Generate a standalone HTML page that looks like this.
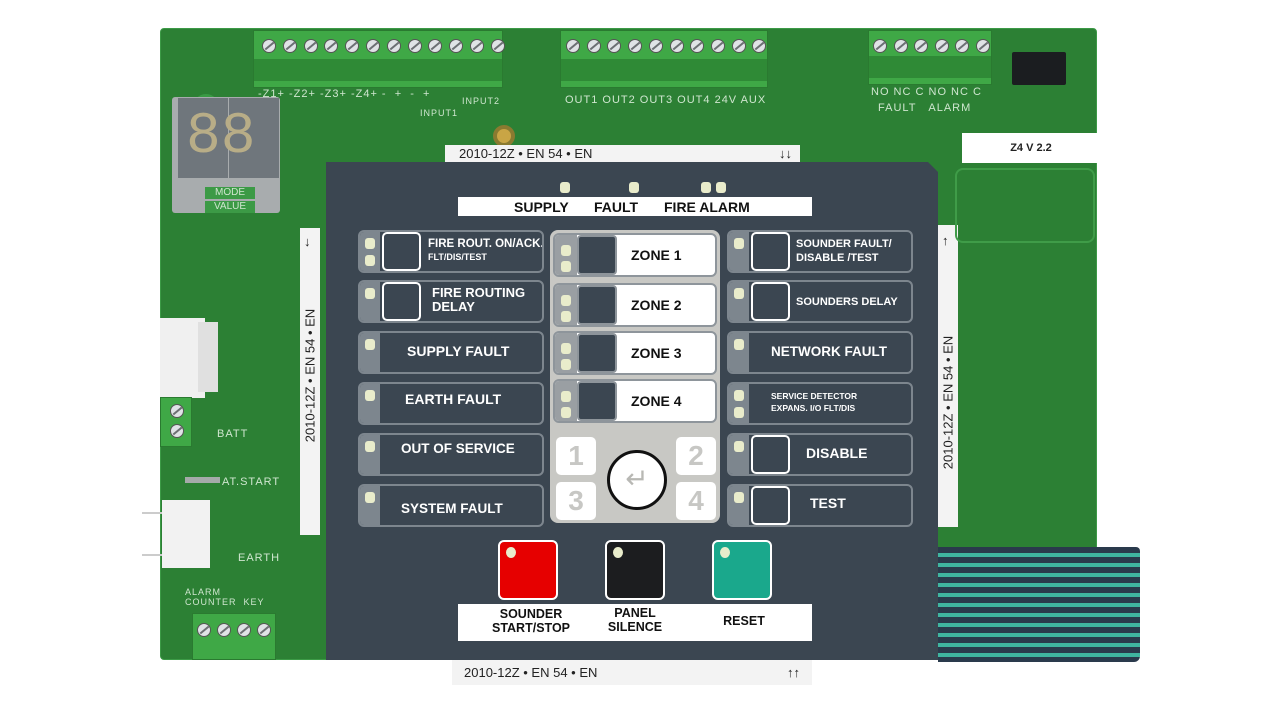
<!DOCTYPE html>
<html><head><meta charset="utf-8"><style>
*{margin:0;padding:0;box-sizing:border-box}
body{width:1280px;height:720px;background:#fff;position:relative;overflow:hidden;font-family:"Liberation Sans",Arial,sans-serif}
.a{position:absolute}
.board{left:160px;top:28px;width:937px;height:632px;background:#2c8034;border-radius:4px;border:1px solid #3c9a46}
.term{background:#3fa846;border:1px solid #2a7a30}
.termlow{position:absolute;left:0;right:0;bottom:6px;height:22px;background:#2f8a36}
.screw{position:absolute;width:14px;height:14px;border-radius:50%;background:#dfe3e6;border:1px solid #555;top:10px}
.screw:after{content:"";position:absolute;left:1px;top:5px;width:11px;height:2px;background:#6b6f73;transform:rotate(-40deg)}
.silk{color:#cfe6cf;font-size:11px;letter-spacing:1px}
.panel{left:326px;top:162px;width:612px;height:498px;background:#3b4651}
.btn{position:absolute;width:186px;height:43px;border:2px solid #7d868e;border-radius:6px;background:#3b4651;overflow:hidden;color:#fff;font-weight:bold}
.strip{position:absolute;left:0;top:0;bottom:0;width:20px;background:#7d868e}
.led{position:absolute;width:10px;height:11px;border-radius:3px;background:#e9eccb}
.sq{position:absolute;left:22px;top:0;width:39px;height:39px;border:2px solid #fff;border-radius:5px;background:#3b4651}
.t{position:absolute;white-space:nowrap;font-size:14px}
.zone{position:absolute;left:553px;width:164px;height:44px;border:2px solid #8e959b;border-radius:6px;background:#fff;overflow:hidden}
.zone .strip{width:22px;background:#9a9fa3}
.zone .sq{left:22px;top:0;width:40px;height:40px;border:2px solid #8e959b;border-radius:4px;background:#3b4651}
.zone .t{left:76px;top:12px;color:#111;font-size:14px;font-weight:bold}
.key{position:absolute;width:40px;height:38px;background:#fff;border-radius:5px;color:#c7c7c4;font-size:28px;font-weight:bold;text-align:center;line-height:38px}
.lab{background:#f3f3f3;color:#222;font-size:13px;white-space:nowrap}
</style></head><body>
<div class="a board"></div>
<div class="a term" style="left:253px;top:30px;width:250px;height:58px"><div class="termlow"></div></div>
<div class="a term" style="left:560px;top:30px;width:208px;height:58px"><div class="termlow"></div></div>
<div class="a term" style="left:868px;top:30px;width:124px;height:55px"><div class="termlow"></div></div>
<div class="a" style="left:1012px;top:52px;width:54px;height:33px;background:#1b1d20;border-radius:2px"></div>
<div class="a silk" style="left:258px;top:88px">-Z1+ -Z2+ -Z3+ -Z4+ - &nbsp;+ &nbsp;- &nbsp;+</div>
<div class="a silk" style="left:420px;top:108px;font-size:9px">INPUT1</div>
<div class="a silk" style="left:462px;top:96px;font-size:9px">INPUT2</div>
<div class="a silk" style="left:565px;top:94px">OUT1 OUT2 OUT3 OUT4 24V AUX</div>
<div class="a silk" style="left:871px;top:86px">NO NC C NO NC C</div>
<div class="a silk" style="left:878px;top:102px">FAULT &nbsp;&nbsp;ALARM</div>
<div class="a" style="left:193px;top:94px;width:26px;height:26px;border-radius:50%;background:#fff;border:5px solid #3a9a44"></div>
<div class="a" style="left:493px;top:125px;width:22px;height:22px;border-radius:50%;background:#c9a545;border:4px solid #8a7a30"></div>
<div class="a" style="left:172px;top:97px;width:108px;height:116px;background:#a8acae;border-radius:3px"></div>
<div class="a" style="left:178px;top:98px;width:50px;height:80px;background:#6f767c"></div>
<div class="a" style="left:229px;top:98px;width:50px;height:80px;background:#6f767c"></div>
<div class="a" style="left:186px;top:108px;font-size:58px;color:#b8ad87;line-height:60px;font-family:'Liberation Mono',monospace">88</div>
<div class="a" style="left:205px;top:187px;width:50px;height:12px;background:#3c9a46;color:#cfe6cf;font-size:10px;text-align:center;line-height:12px">MODE</div>
<div class="a" style="left:205px;top:201px;width:50px;height:12px;background:#3c9a46;color:#cfe6cf;font-size:10px;text-align:center;line-height:12px">VALUE</div>
<div class="a" style="left:160px;top:318px;width:45px;height:80px;background:#f0f0f0"></div>
<div class="a" style="left:198px;top:322px;width:20px;height:70px;background:#e0e0e0"></div>
<div class="a term" style="left:160px;top:397px;width:32px;height:50px"></div>
<div class="a silk" style="left:217px;top:428px">BATT</div>
<div class="a silk" style="left:222px;top:476px">AT.START</div>
<div class="a" style="left:185px;top:477px;width:35px;height:6px;background:#a5aaa9"></div>
<div class="a" style="left:162px;top:500px;width:48px;height:68px;background:#f2f2f2"></div>
<div class="a" style="left:142px;top:512px;width:20px;height:2px;background:#ccc"></div>
<div class="a" style="left:142px;top:554px;width:20px;height:2px;background:#ccc"></div>
<div class="a silk" style="left:238px;top:552px">EARTH</div>
<div class="a silk" style="left:185px;top:587px;font-size:9px">ALARM<br>COUNTER &nbsp;KEY</div>
<div class="a term" style="left:192px;top:613px;width:84px;height:47px"></div>
<div id="screws"></div>
<div class="a lab" style="left:445px;top:145px;width:355px;height:18px;padding-left:14px;line-height:18px">2010-12Z • EN 54 • EN<span style="position:absolute;right:8px">↓↓</span></div>
<div class="a lab" style="left:962px;top:133px;width:138px;height:30px;background:#fff;line-height:30px;text-align:center;font-size:11px;font-weight:bold">Z4 V 2.2</div>
<div class="a lab" style="left:300px;top:228px;width:20px;height:307px"><div class="a" style="left:-140px;top:140px;width:300px;transform:rotate(-90deg);text-align:center">2010-12Z • EN 54 • EN</div><div class="a" style="left:4px;top:6px">↓</div></div>
<div class="a lab" style="left:938px;top:225px;width:20px;height:302px"><div class="a" style="left:-140px;top:170px;width:300px;transform:rotate(-90deg);text-align:center">2010-12Z • EN 54 • EN</div><div class="a" style="left:4px;top:8px">↑</div></div>
<div class="a" style="left:955px;top:168px;width:140px;height:75px;border:2px solid #3f9c48;border-radius:8px"></div>
<div class="a" style="left:938px;top:547px;width:202px;height:115px;border-radius:0 4px 6px 0;background:repeating-linear-gradient(#2a3a4c 0 6px,#3fb5a0 6px 10px)"></div>
<div class="a panel"></div>
<div class="a" style="left:928px;top:162px;width:12px;height:12px;background:#2c8034;clip-path:polygon(0 0,100% 0,100% 100%)"></div>
<div class="a lab" style="left:452px;top:660px;width:360px;height:25px;line-height:25px;padding-left:12px;font-size:13px">2010-12Z • EN 54 • EN<span style="position:absolute;right:12px">↑↑</span></div>
<div class="a led" style="left:560px;top:182px"></div>
<div class="a led" style="left:629px;top:182px"></div>
<div class="a led" style="left:701px;top:182px"></div>
<div class="a led" style="left:716px;top:182px"></div>
<div class="a" style="left:458px;top:197px;width:354px;height:19px;background:#fff"></div>
<div class="a t" style="left:514px;top:199px;font-weight:bold;color:#111;font-size:14px">SUPPLY</div>
<div class="a t" style="left:594px;top:199px;font-weight:bold;color:#111;font-size:14px">FAULT</div>
<div class="a t" style="left:664px;top:199px;font-weight:bold;color:#111;font-size:14px">FIRE ALARM</div>
<div class="btn" style="left:358px;top:230px"><div class="strip"></div><div class="led" style="left:5px;top:6px"></div><div class="led" style="left:5px;top:23px"></div><div class="sq"></div><div class="t" style="left:68px;top:6px;font-size:11.5px">FIRE ROUT. ON/ACK.</div><div class="t" style="left:68px;top:20px;font-size:9px">FLT/DIS/TEST</div></div>
<div class="btn" style="left:358px;top:280px"><div class="strip"></div><div class="led" style="left:5px;top:6px"></div><div class="sq"></div><div class="t" style="left:72px;top:4px;font-size:13px;line-height:14px">FIRE ROUTING<br>DELAY</div></div>
<div class="btn" style="left:358px;top:331px"><div class="strip"></div><div class="led" style="left:5px;top:6px"></div><div class="t" style="left:47px;top:10px">SUPPLY FAULT</div></div>
<div class="btn" style="left:358px;top:382px"><div class="strip"></div><div class="led" style="left:5px;top:6px"></div><div class="t" style="left:45px;top:7px">EARTH FAULT</div></div>
<div class="btn" style="left:358px;top:433px"><div class="strip"></div><div class="led" style="left:5px;top:6px"></div><div class="t" style="left:41px;top:6px;font-size:13.5px">OUT OF SERVICE</div></div>
<div class="btn" style="left:358px;top:484px"><div class="strip"></div><div class="led" style="left:5px;top:6px"></div><div class="t" style="left:41px;top:15px;font-size:13.5px">SYSTEM FAULT</div></div>
<div class="btn" style="left:727px;top:230px"><div class="strip"></div><div class="led" style="left:5px;top:6px"></div><div class="sq"></div><div class="t" style="left:67px;top:5px;font-size:11px;line-height:14px">SOUNDER FAULT/<br>DISABLE /TEST</div></div>
<div class="btn" style="left:727px;top:280px"><div class="strip"></div><div class="led" style="left:5px;top:6px"></div><div class="sq"></div><div class="t" style="left:67px;top:14px;font-size:11px">SOUNDERS DELAY</div></div>
<div class="btn" style="left:727px;top:331px"><div class="strip"></div><div class="led" style="left:5px;top:6px"></div><div class="t" style="left:42px;top:11px;font-size:13.5px">NETWORK FAULT</div></div>
<div class="btn" style="left:727px;top:382px"><div class="strip"></div><div class="led" style="left:5px;top:6px"></div><div class="led" style="left:5px;top:23px"></div><div class="t" style="left:42px;top:6px;font-size:8.5px;line-height:12px">SERVICE DETECTOR<br>EXPANS. I/O FLT/DIS</div></div>
<div class="btn" style="left:727px;top:433px"><div class="strip"></div><div class="led" style="left:5px;top:6px"></div><div class="sq"></div><div class="t" style="left:77px;top:10px">DISABLE</div></div>
<div class="btn" style="left:727px;top:484px"><div class="strip"></div><div class="led" style="left:5px;top:6px"></div><div class="sq"></div><div class="t" style="left:81px;top:9px">TEST</div></div>
<div class="a" style="left:550px;top:230px;width:170px;height:293px;background:#c8c8c4;border-radius:8px"></div>
<div class="zone" style="top:233px"><div class="strip"></div><div class="led" style="left:6px;top:10px"></div><div class="led" style="left:6px;top:26px"></div><div class="sq"></div><div class="t">ZONE 1</div></div>
<div class="zone" style="top:283px"><div class="strip"></div><div class="led" style="left:6px;top:10px"></div><div class="led" style="left:6px;top:26px"></div><div class="sq"></div><div class="t">ZONE 2</div></div>
<div class="zone" style="top:331px"><div class="strip"></div><div class="led" style="left:6px;top:10px"></div><div class="led" style="left:6px;top:26px"></div><div class="sq"></div><div class="t">ZONE 3</div></div>
<div class="zone" style="top:379px"><div class="strip"></div><div class="led" style="left:6px;top:10px"></div><div class="led" style="left:6px;top:26px"></div><div class="sq"></div><div class="t">ZONE 4</div></div>
<div class="key" style="left:556px;top:437px">1</div>
<div class="key" style="left:676px;top:437px">2</div>
<div class="key" style="left:556px;top:482px">3</div>
<div class="key" style="left:676px;top:482px">4</div>
<div class="a" style="left:607px;top:450px;width:60px;height:60px;border-radius:50%;background:#fff;border:3px solid #111;text-align:center;line-height:52px;font-size:28px;color:#b8b8b4">↵</div>
<div class="a" style="left:498px;top:540px;width:60px;height:60px;background:#e60000;border:2px solid #fff;border-radius:6px"><div class="led" style="left:6px;top:5px;border-radius:50%"></div></div>
<div class="a" style="left:605px;top:540px;width:60px;height:60px;background:#1c1d1f;border:2px solid #fff;border-radius:6px"><div class="led" style="left:6px;top:5px;border-radius:50%"></div></div>
<div class="a" style="left:712px;top:540px;width:60px;height:60px;background:#1aa88c;border:2px solid #fff;border-radius:6px"><div class="led" style="left:6px;top:5px;border-radius:50%"></div></div>
<div class="a" style="left:458px;top:604px;width:354px;height:37px;background:#fff"></div>
<div class="a t" style="left:485px;top:607px;width:92px;text-align:center;color:#111;font-weight:bold;font-size:12.5px;line-height:14px">SOUNDER<br>START/STOP</div>
<div class="a t" style="left:595px;top:606px;width:80px;text-align:center;color:#111;font-weight:bold;font-size:12.5px;line-height:14px">PANEL<br>SILENCE</div>
<div class="a t" style="left:704px;top:614px;width:80px;text-align:center;color:#111;font-weight:bold;font-size:12.5px">RESET</div>
<script>
var s='',xs=[];
for(var i=0;i<12;i++)xs.push(262+i*20.8);
for(var i=0;i<10;i++)xs.push(566+i*20.7);
for(var i=0;i<6;i++)xs.push(873+i*20.5);
xs.forEach(function(x){s+='<div class="screw" style="left:'+x+'px;top:39px"></div>'});
[197,217,237,257].forEach(function(x){s+='<div class="screw" style="left:'+x+'px;top:623px"></div>'});
s+='<div class="screw" style="left:170px;top:404px"></div><div class="screw" style="left:170px;top:424px"></div>';
document.getElementById('screws').outerHTML=s;
</script>
</body></html>
